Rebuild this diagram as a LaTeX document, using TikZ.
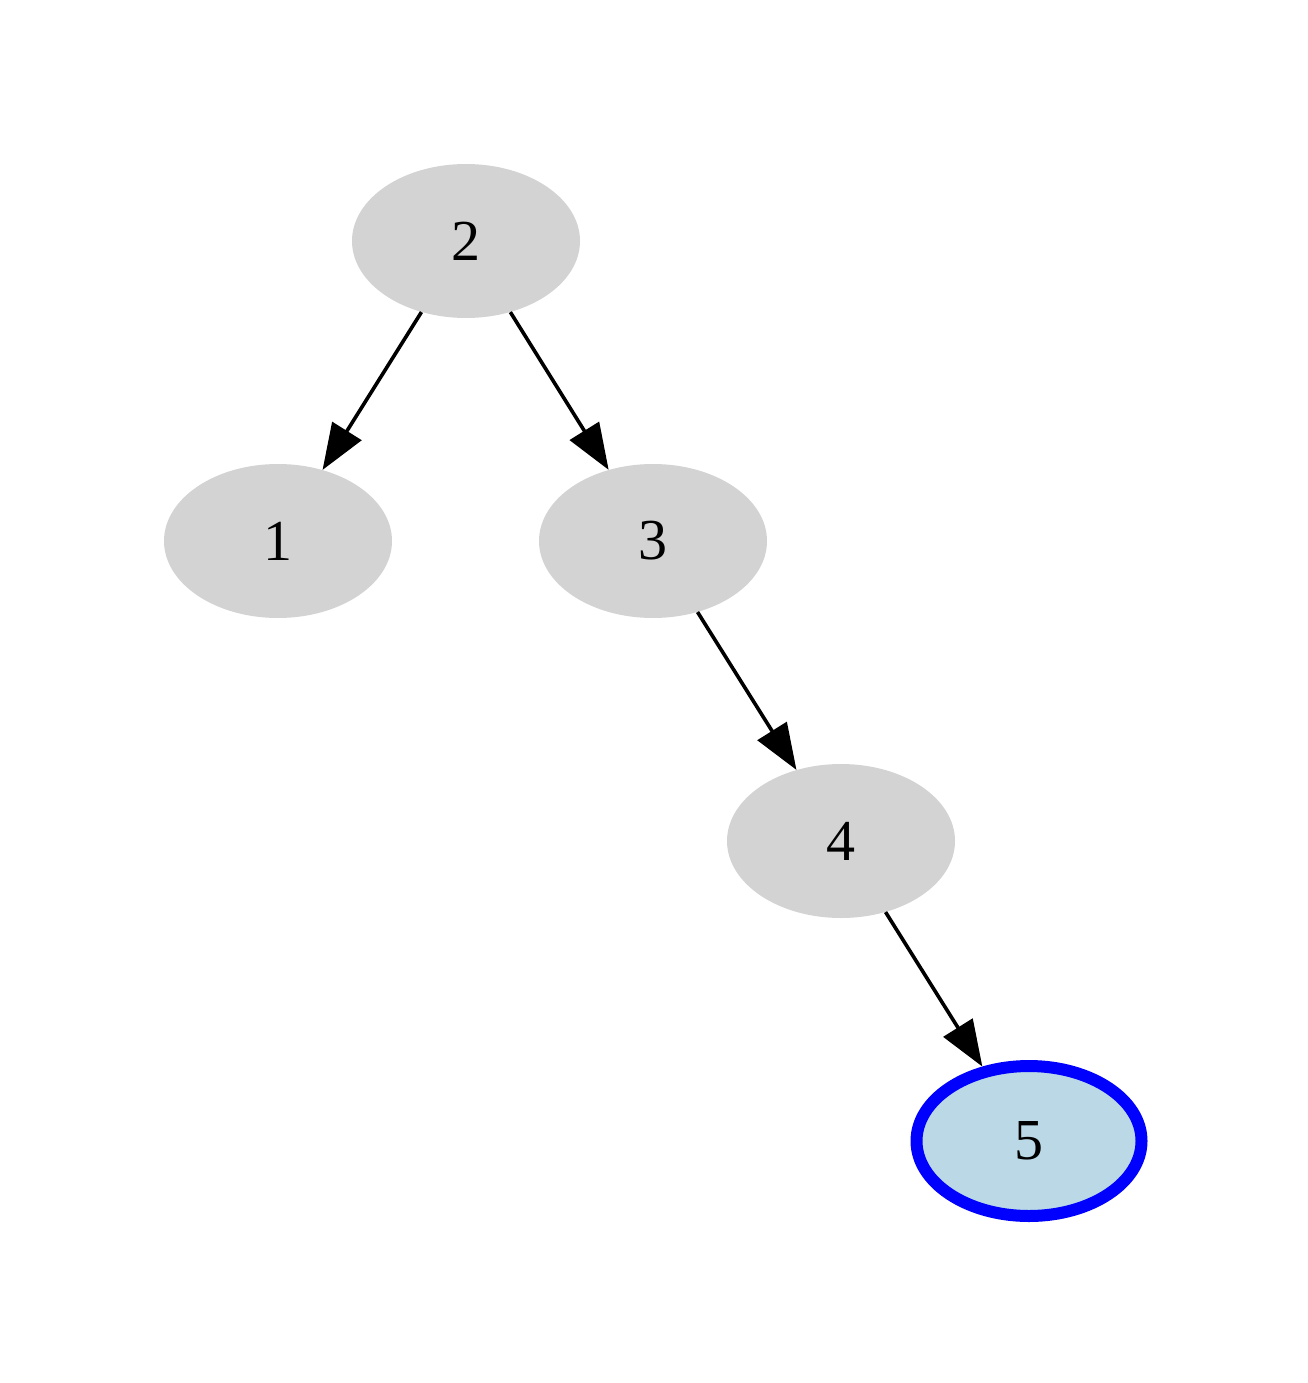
\documentclass[tikz,border=0pt]{standalone}
\usepackage{fontspec}
\setmainfont{Liberation Serif}
\usetikzlibrary{shapes.geometric,arrows.meta}
\definecolor{nodegray}{HTML}{D3D3D3}
\definecolor{leafblue}{HTML}{BAD8E6}
\begin{document}
\begin{tikzpicture}[x=1pt,y=-1pt,
  tnode/.style={ellipse,fill=nodegray,minimum width=228pt,minimum height=154pt,inner sep=0pt,font=\fontsize{58}{58}\selectfont},
  hl/.style={fill=leafblue,draw=blue,line width=12pt,minimum width=225pt,minimum height=150pt},
  edge/.style={line width=3.6pt,-{Triangle[length=46pt,width=34pt]}}]
\useasboundingbox (0,0) rectangle (1308,1383);
\node[tnode] (n2) at (466,241) {2};
\node[tnode] (n1) at (278,541) {1};
\node[tnode] (n3) at (653,541) {3};
\node[tnode] (n4) at (841,841) {4};
\node[tnode,hl] (n5) at (1029,1141) {5};
\draw[edge] (n2) -- (n1);
\draw[edge] (n2) -- (n3);
\draw[edge] (n3) -- (n4);
\draw[edge] (n4) -- (n5);
\end{tikzpicture}
\end{document}
